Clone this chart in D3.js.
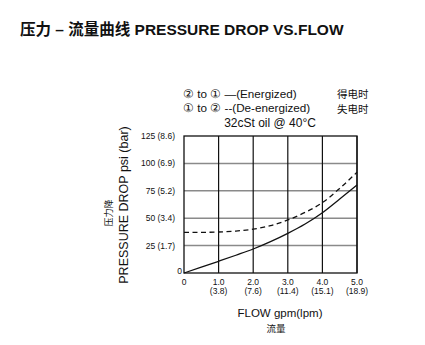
<!DOCTYPE html>
<html><head><meta charset="utf-8">
<script src="https://cdn.jsdelivr.net/npm/d3@7"></script>
<style>body{margin:0;background:#fff}svg{display:block}text{font-family:"Liberation Sans",Arial,sans-serif;fill:#111}</style>
</head><body>
<script>
const flowGpm = [0, 0.5, 1.0, 1.5, 2.0, 2.5, 3.0, 3.5, 4.0, 4.5, 5.0];
const energized = [0, 5.3, 10.7, 16.2, 21.9, 28.6, 36.2, 44.7, 55, 67.5, 80.3];
const deEnergized = [37, 37.1, 37.4, 38.3, 40, 43.2, 48.4, 55.3, 64.2, 77.2, 91.9];
const yTicks = [0, 25, 50, 75, 100, 125];
const yTickLabels = ["0", "25 (1.7)", "50 (3.4)", "75 (5.2)", "100 (6.9)", "125 (8.6)"];
const xTicks = [0, 1, 2, 3, 4, 5];
const xTickLabels = ["0", "1.0", "2.0", "3.0", "4.0", "5.0"];
const xTickSub = ["", "(3.8)", "(7.6)", "(11.4)", "(15.1)", "(18.9)"];

const W = 425, H = 345;
const svg = d3.select("body").append("svg").attr("width", W).attr("height", H);
const x = d3.scaleLinear().domain([0, 5]).range([184, 357]);
const y = d3.scaleLinear().domain([0, 125]).range([273, 136]);

svg.append("text").attr("x", 20).attr("y", 35).attr("font-size", 15.5).attr("font-weight", "bold")
  .style("font-family", "'Liberation Sans','Noto Sans CJK SC',sans-serif")
  .text("压力 – 流量曲线 PRESSURE DROP VS.FLOW");

// legend
const lg = svg.append("g").attr("font-size", 11.7);
lg.append("text").attr("x", 183).attr("y", 98).text("② to ① —(Energized)");
lg.append("text").attr("x", 183).attr("y", 112).text("① to ② --(De-energized)");
lg.append("text").attr("x", 337).attr("y", 98).attr("font-size", 10.5).style("font-family","'Noto Sans CJK SC',sans-serif").text("得电时");
lg.append("text").attr("x", 337).attr("y", 113).attr("font-size", 10.5).style("font-family","'Noto Sans CJK SC',sans-serif").text("失电时");
lg.append("text").attr("x", 270).attr("y", 127).attr("font-size", 12).attr("text-anchor", "middle").text("32cSt oil @ 40°C");

// grid
svg.append("g").selectAll("line").data(yTicks.filter(d => d > 0 && d < 125)).join("line")
  .attr("x1", x(0)).attr("x2", x(5)).attr("y1", d => y(d)).attr("y2", d => y(d))
  .attr("stroke", "#8a8a8a").attr("stroke-width", 1.5);
svg.append("g").selectAll("line").data(xTicks.filter(d => d > 0)).join("line")
  .attr("x1", d => x(d)).attr("x2", d => x(d)).attr("y1", y(0)).attr("y2", y(125))
  .attr("stroke", "#111").attr("stroke-width", 1.2);
svg.append("rect").attr("x", x(0)).attr("y", y(125)).attr("width", x(5) - x(0)).attr("height", y(0) - y(125))
  .attr("fill", "none").attr("stroke", "#111").attr("stroke-width", 1.3);

// y ticks
const yt = svg.append("g").attr("font-size", 8.5);
yt.selectAll("text").data(yTicks).join("text")
  .attr("x", (d, i) => i === 0 ? x(0) - 2 : x(0) - 9).attr("y", (d, i) => i === 0 ? y(d) + 1 : y(d) + 3)
  .attr("text-anchor", "end").text((d, i) => yTickLabels[i]);
// x ticks
const xt = svg.append("g").attr("font-size", 8.5).attr("text-anchor", "middle");
xt.selectAll(".a").data(xTicks).join("text").attr("class", "a")
  .attr("x", d => x(d)).attr("y", 285).text((d, i) => xTickLabels[i]);
xt.selectAll(".b").data(xTicks).join("text").attr("class", "b")
  .attr("x", d => x(d)).attr("y", 294).text((d, i) => xTickSub[i]);

// axis titles
svg.append("text").attr("x", 280).attr("y", 317).attr("font-size", 11.5).attr("text-anchor", "middle").text("FLOW gpm(lpm)");
svg.append("text").attr("x", 276).attr("y", 332).attr("font-size", 9.5).attr("text-anchor", "middle")
  .style("font-family","'Noto Sans CJK SC',sans-serif").text("流量");
svg.append("text").attr("transform", "translate(128,205) rotate(-90)").attr("font-size", 12.5)
  .attr("text-anchor", "middle").text("PRESSURE DROP psi (bar)");
svg.append("text").attr("transform", "translate(112,213) rotate(-90)").attr("font-size", 9)
  .attr("text-anchor", "middle").style("font-family","'Noto Sans CJK SC',sans-serif").text("压力降");

// curves
const line = d3.line().x((d, i) => x(flowGpm[i])).y(d => y(d)).curve(d3.curveMonotoneX);
svg.append("path").attr("d", line(energized)).attr("fill", "none").attr("stroke", "#111").attr("stroke-width", 1.3);
svg.append("path").attr("d", line(deEnergized)).attr("fill", "none").attr("stroke", "#111").attr("stroke-width", 1.3)
  .attr("stroke-dasharray", "5,3.5");
</script>
</body></html>
